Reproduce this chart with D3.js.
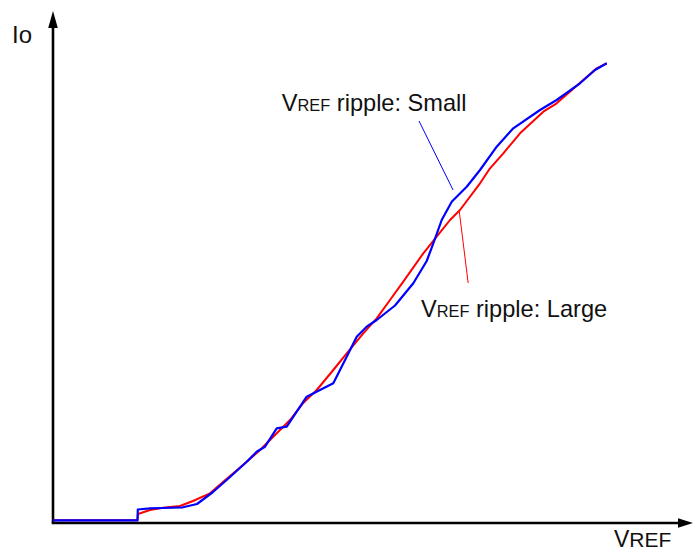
<!DOCTYPE html>
<html>
<head>
<meta charset="utf-8">
<script src="https://cdn.jsdelivr.net/npm/d3@7"></script>
<style>
  html, body { margin: 0; padding: 0; background: #fff; }
  text { font-family: "Liberation Sans", Arial, sans-serif; fill: #111; }
</style>
</head>
<body>
<svg id="chart" width="699" height="552"></svg>
<script>
// Output current Io versus reference voltage VREF (arbitrary units, 0-100 on both axes)
const smallRippleV  = [0, 13.41, 13.46, 15.40, 17.46, 20.63, 22.86, 25.40, 28.10, 30.75, 32.33, 33.65,
  35.51, 37.10, 40.27, 42.38, 44.49, 46.62, 48.21, 49.79, 51.38, 54.29, 57.19, 59.32, 60.37, 61.70,
  63.29, 65.67, 67.78, 70.43, 73.06, 77.30, 79.95, 83.65, 86.03, 87.89];
const smallRippleIo = [0.54, 0.54, 2.70, 2.94, 3.00, 3.14, 3.80, 6.20, 9.20, 12.26, 14.26, 15.26,
  18.94, 19.26, 25.26, 26.60, 27.94, 33.26, 37.26, 39.26, 40.60, 43.50, 47.94, 52.40, 55.94, 60.60,
  64.26, 67.26, 70.60, 75.26, 78.94, 82.60, 84.60, 87.94, 90.60, 91.94];

const largeRippleV  = [0, 13.41, 13.49, 15.40, 17.46, 20.16, 22.22, 24.92, 26.98, 30.16, 32.86, 34.92,
  37.62, 39.68, 41.86, 44.49, 46.62, 49.25, 51.38, 53.49, 55.60, 58.78, 60.90, 63.02, 64.60, 67.78,
  69.37, 71.48, 74.13, 77.83, 79.95, 84.17, 86.30, 87.89];
const largeRippleIo = [0.54, 0.54, 1.80, 2.60, 3.06, 3.40, 4.40, 5.94, 8.20, 11.60, 14.60, 17.20,
  20.60, 23.94, 26.60, 30.60, 33.94, 37.94, 40.94, 44.60, 48.26, 53.94, 57.26, 60.60, 62.60, 67.94,
  70.94, 73.94, 77.94, 82.26, 83.94, 88.60, 90.94, 91.94];

const seriesNames = ["Small", "Large"];
const seriesColors = ["#0000ff", "#ff0000"];

const svg = d3.select("#chart");

const x = d3.scaleLinear().domain([0, 100]).range([53, 683]);
const y = d3.scaleLinear().domain([0, 100]).range([523, 23]);

// Axes: plain lines with filled arrowheads, no ticks
const axisG = svg.append("g");
const x0 = x(0), y0 = y(0);
const yTip = 11, yHead = 17, xTip = 693, xHead = 15, half = 4.8;

axisG.append("line")
  .attr("x1", x0).attr("y1", y0)
  .attr("x2", x0).attr("y2", yTip + yHead - 1)
  .attr("stroke", "#000").attr("stroke-width", 2.6);
axisG.append("line")
  .attr("x1", x0 - 1.3).attr("y1", y0)
  .attr("x2", xTip - xHead + 1).attr("y2", y0)
  .attr("stroke", "#000").attr("stroke-width", 2.6);
axisG.append("path")
  .attr("d", `M${x0},${yTip} L${x0 + half},${yTip + yHead} L${x0 - half},${yTip + yHead} Z`)
  .attr("fill", "#000");
axisG.append("path")
  .attr("d", `M${xTip},${y0} L${xTip - xHead},${y0 - half} L${xTip - xHead},${y0 + half} Z`)
  .attr("fill", "#000");

axisG.append("text").attr("x", 12).attr("y", 43)
  .attr("font-size", 24).text("Io");

const xLabel = axisG.append("text").attr("x", 614).attr("y", 547).attr("font-size", 23);
xLabel.append("tspan").text("V");
xLabel.append("tspan").attr("font-size", 21).text("REF");

// Curves: large ripple first, small ripple drawn on top
const line = d3.line().x(d => x(d[0])).y(d => y(d[1])).curve(d3.curveLinear);
const large = largeRippleV.map((v, i) => [v, largeRippleIo[i]]);
const small = smallRippleV.map((v, i) => [v, smallRippleIo[i]]);

svg.append("path").datum(large)
  .attr("d", line).attr("fill", "none")
  .attr("stroke", seriesColors[1]).attr("stroke-width", 2)
  .attr("stroke-linejoin", "round");
svg.append("path").datum(small)
  .attr("d", line).attr("fill", "none")
  .attr("stroke", seriesColors[0]).attr("stroke-width", 2.2)
  .attr("stroke-linejoin", "round");

// Callouts naming each curve
const callouts = [
  { name: seriesNames[0], color: seriesColors[0], tx: 36.3, ty: 82.4, from: [58.1, 80.4], to: [63.5, 66.6] },
  { name: seriesNames[1], color: seriesColors[1], tx: 58.4, ty: 41.3, from: [64.5, 62.2], to: [65.9, 48.0] }
];
callouts.forEach(c => {
  svg.append("line")
    .attr("x1", x(c.from[0])).attr("y1", y(c.from[1]))
    .attr("x2", x(c.to[0])).attr("y2", y(c.to[1]))
    .attr("stroke", c.color).attr("stroke-width", 1);
  const t = svg.append("text").attr("x", x(c.tx)).attr("y", y(c.ty)).attr("font-size", 23.6);
  t.append("tspan").text("V");
  t.append("tspan").attr("font-size", 16.4).text("REF");
  t.append("tspan").text(" ripple: " + c.name);
});
</script>
</body>
</html>
